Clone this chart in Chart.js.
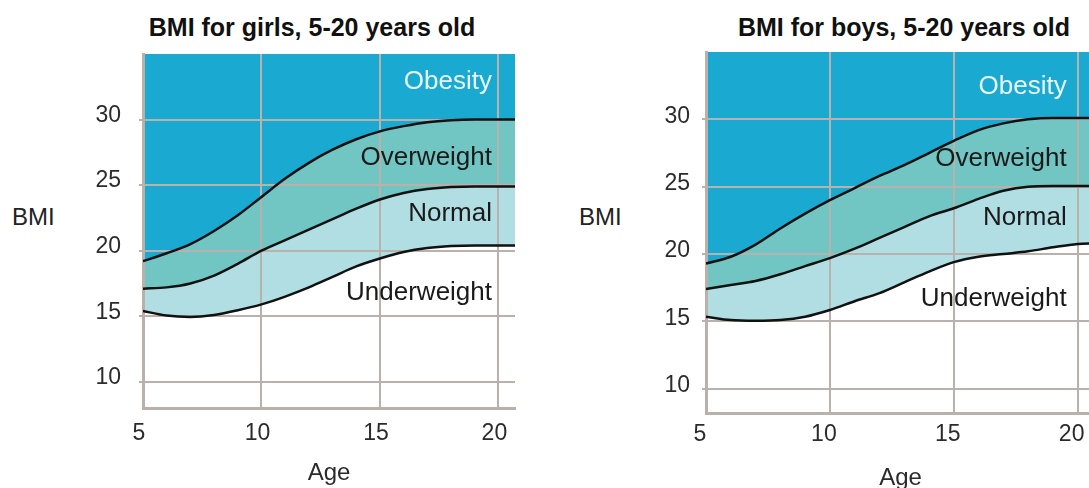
<!DOCTYPE html>
<html>
<head>
<meta charset="utf-8">
<script src="https://cdn.jsdelivr.net/npm/chart.js@4"></script>
<style>
  html, body { margin: 0; padding: 0; width: 1089px; height: 488px; overflow: hidden; background: #fff; }
  body { position: relative; font-family: "Liberation Sans", Arial, Helvetica, sans-serif; }
  canvas { position: absolute; top: 0; }
  .title { position: absolute; top: 13px; width: 400px; line-height: 28px; font-size: 25px; font-weight: bold; color: #111; text-align: center; white-space: nowrap; }
  .ylab { position: absolute; top: 203px; line-height: 28px; font-size: 24px; color: #222; }
</style>
</head>
<body>
<div class="title" style="left:112px">BMI for girls, 5-20 years old</div>
<div class="title" style="left:704px">BMI for boys, 5-20 years old</div>
<div class="ylab" style="left:12px">BMI</div>
<div class="ylab" style="left:579px">BMI</div>
<canvas id="girlsChart" width="540" height="500" style="left:0"></canvas>
<canvas id="boysChart" width="540" height="500" style="left:560px"></canvas>
<script>
// Ages (x) and BMI cut-off curves
const ages = [5, 6, 7, 8, 9, 10, 11, 12, 13, 14, 15, 16, 17, 18, 19, 20, 20.7];

const girlsUpper = [19.2, 19.8, 20.5, 21.5, 22.7, 24.1, 25.5, 26.7, 27.7, 28.5, 29.1, 29.5, 29.8, 29.95, 30, 30, 30];
const girlsMid   = [17.1, 17.2, 17.5, 18.1, 19.0, 20.0, 20.8, 21.6, 22.4, 23.2, 23.9, 24.4, 24.7, 24.85, 24.9, 24.9, 24.9];
const girlsLow   = [15.4, 15.05, 14.95, 15.1, 15.45, 15.9, 16.5, 17.2, 18.0, 18.8, 19.4, 19.9, 20.2, 20.35, 20.4, 20.4, 20.4];

const boysUpper = [19.3, 19.8, 20.7, 21.9, 23.0, 24.0, 24.9, 25.8, 26.6, 27.5, 28.4, 29.2, 29.7, 30.0, 30.1, 30.1, 30.1];
const boysMid   = [17.4, 17.7, 18.0, 18.5, 19.1, 19.7, 20.4, 21.2, 22.0, 22.8, 23.4, 24.1, 24.7, 25.0, 25.05, 25.05, 25.05];
const boysLow   = [15.35, 15.1, 15.05, 15.1, 15.35, 15.85, 16.5, 17.1, 17.9, 18.7, 19.4, 19.8, 20.0, 20.2, 20.5, 20.75, 20.8];

const xTicks = [5, 10, 15, 20];
const yTicks = [10, 15, 20, 25, 30];

// Zone labels (right aligned at labelAge)
const zoneNames = ['Obesity', 'Overweight', 'Normal', 'Underweight'];
const girlsLabelY = [32.9, 27.1, 22.8, 16.8];
const boysLabelY = [32.4, 27.1, 22.7, 16.7];
const girlsLabelAge = 19.73;
const boysLabelAge = 19.56;

const FONT = '"Liberation Sans", Arial, Helvetica, sans-serif';
const GRID = '#b8b1ac';
const COLORS = { obesity: '#19a9d1', over: '#71c6c3', normal: '#b1dee3', line: '#111111' };

// grid goes back on top of the filled bands, curves are drawn after it
const gridOverFill = {
    id: 'gridOverFill',
    beforeDatasetsDraw(chart) {
        const area = chart.chartArea;
        ['x', 'y'].forEach(k => {
            chart.scales[k].drawGrid(area);
            chart.scales[k].drawBorder();
        });
    }
};

const zoneLabelPlugin = {
    id: 'zoneLabels',
    afterDatasetsDraw(chart, args, opts) {
        const ctx = chart.ctx;
        const xs = chart.scales.x, ys = chart.scales.y;
        ctx.save();
        ctx.font = `26px ${FONT}`;
        ctx.textAlign = 'right';
        ctx.textBaseline = 'middle';
        opts.names.forEach((name, i) => {
            ctx.fillStyle = i === 0 ? '#e8f6fa' : '#1a1a1a';
            ctx.fillText(name, xs.getPixelForValue(opts.age), ys.getPixelForValue(opts.ys[i]));
        });
        ctx.restore();
    }
};

function toPoints(values) {
    return values.map((v, i) => ({ x: ages[i], y: v }));
}

function makeChart(id, upper, mid, low, labelYs, labelAge, geo) {
    const ctx = document.getElementById(id).getContext('2d');
    const lineStyle = {
        borderColor: COLORS.line,
        borderWidth: 2.5,
        pointRadius: 0,
        cubicInterpolationMode: 'monotone'
    };
    return new Chart(ctx, {
        type: 'line',
        data: {
            datasets: [
                { ...lineStyle, label: 'Overweight / Obesity', data: toPoints(upper), fill: 'end', backgroundColor: COLORS.obesity },
                { ...lineStyle, label: 'Normal / Overweight', data: toPoints(mid), fill: '-1', backgroundColor: COLORS.over },
                { ...lineStyle, label: 'Underweight / Normal', data: toPoints(low), fill: '-1', backgroundColor: COLORS.normal }
            ]
        },
        options: {
            responsive: false,
            animation: false,
            layout: { padding: geo.padding },
            plugins: {
                legend: { display: false },
                tooltip: { enabled: false },
                filler: { drawTime: 'beforeDatasetsDraw' },
                zoneLabels: { names: zoneNames, ys: labelYs, age: labelAge }
            },
            scales: {
                x: {
                    type: 'linear',
                    min: 5,
                    max: 20.7,
                    afterBuildTicks: s => { s.ticks = xTicks.map(v => ({ value: v })); },
                    afterFit: s => { s.height = geo.xHeight; },
                    grid: { color: GRID, lineWidth: 2, drawTicks: false },
                    border: { color: GRID, width: 3 },
                    ticks: {
                        color: '#2b2b2b',
                        font: { family: FONT, size: 23 },
                        padding: geo.xPad,
                        labelOffset: geo.xLabelOffset,
                        maxRotation: 0
                    },
                    title: {
                        display: true,
                        text: 'Age',
                        color: '#2b2b2b',
                        font: { family: FONT, size: 24 },
                        padding: { top: 0, bottom: geo.titlePad }
                    }
                },
                y: {
                    min: geo.yMin,
                    max: 35,
                    afterBuildTicks: s => { s.ticks = yTicks.map(v => ({ value: v })); },
                    afterFit: s => { s.width = geo.yWidth; },
                    grid: { color: GRID, lineWidth: 2, tickLength: 4 },
                    border: { color: GRID, width: 3 },
                    ticks: {
                        color: '#2b2b2b',
                        font: { family: FONT, size: 23 },
                        padding: geo.yPad,
                        labelOffset: geo.yLabelOffset
                    }
                }
            }
        },
        plugins: [gridOverFill, zoneLabelPlugin]
    });
}

makeChart('girlsChart', girlsUpper, girlsMid, girlsLow, girlsLabelY, girlsLabelAge, {
    padding: { left: 0, top: 54, right: 25, bottom: 0 },
    yWidth: 143, xHeight: 92, yMin: 8,
    xPad: 12, yPad: 18, xLabelOffset: -4, yLabelOffset: -4, titlePad: 12
});

makeChart('boysChart', boysUpper, boysMid, boysLow, boysLabelY, boysLabelAge, {
    padding: { left: 0, top: 52, right: 5, bottom: 0 },
    yWidth: 146, xHeight: 87, yMin: 8.2,
    xPad: 8, yPad: 12, xLabelOffset: -6, yLabelOffset: -3, titlePad: 7
});
</script>
</body>
</html>
